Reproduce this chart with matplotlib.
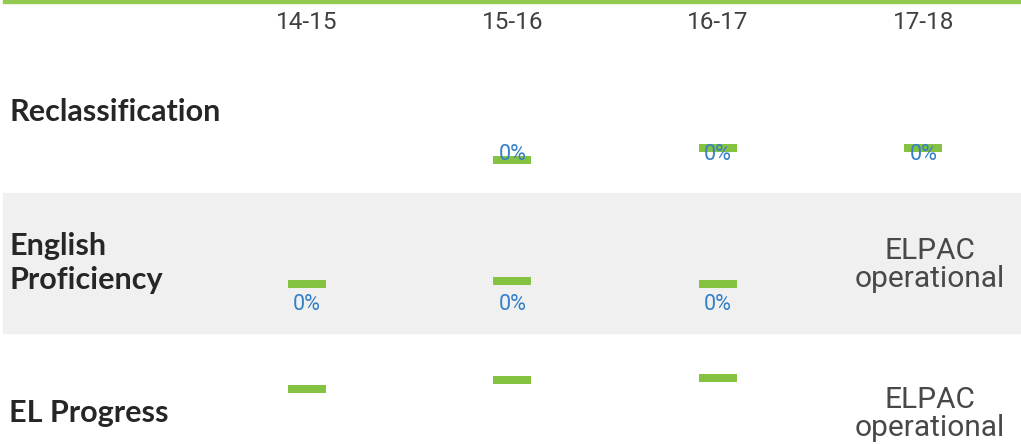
import numpy as np
import matplotlib
matplotlib.use("Agg")
import matplotlib.pyplot as plt
from matplotlib.patches import Rectangle

# data
years = ['14-15', '15-16', '16-17', '17-18']
rows = ['Reclassification', 'English\nProficiency', 'EL Progress']
# dash levels inside each row (row-local units, bottom of row = 0)
reclass_vals = [np.nan, 33, 45, 45]
prof_vals = [49, 52, 49, np.nan]
progress_vals = [55, 64, 66, np.nan]
reclass_labels = ['', '0%', '0%', '0%']
prof_labels = ['0%', '0%', '0%', '']
progress_labels = ['', '', '', '']
notes = ['', 'ELPAC\noperational', 'ELPAC\noperational']

# layout (pixels)
W, H = 1021, 444
row_edges = [40, 193, 333, 444]   # top of each row / bottom of last
label_y = [38, 29, 0]
text_y = [112, 263, 413]
note_y = [0, 265, 414]
green = '#85c242'
blue = '#3580c8'
head_col = '#404040'

fig = plt.figure(figsize=(W / 100, H / 100), dpi=100)
fig.patch.set_facecolor('white')

# grey band for the middle row and the green rule at the top
fig.patches.append(Rectangle((3 / W, 1 - 333 / H), 1 - 3 / W, 140 / H,
                             transform=fig.transFigure, color='#f0f0f0', zorder=-1))
fig.patches.append(Rectangle((3 / W, 1 - 3 / H), 1 - 3 / W, 3 / H,
                             transform=fig.transFigure, color='#92c94f', zorder=-1))

xlim = (-1.4926, 3.4746)
x = np.arange(len(years))

# header
hax = fig.add_axes([0, 1 - 40 / H, 1, 40 / H])
hax.set_xlim(*xlim)
hax.set_ylim(0, 40)
hax.axis('off')
for i, yr in enumerate(years):
    hax.text(i, 40 - 22.5, yr, ha='center', va='center', fontsize=17.5,
             family='Roboto', color=head_col)

all_vals = [reclass_vals, prof_vals, progress_vals]
all_labels = [reclass_labels, prof_labels, progress_labels]

for r in range(3):
    top, bot = row_edges[r], row_edges[r + 1]
    h = bot - top
    ax = fig.add_axes([0, 1 - bot / H, 1, h / H])
    ax.set_xlim(*xlim)
    ax.set_ylim(0, h)
    ax.axis('off')
    vals = np.array(all_vals[r], dtype=float)
    ok = ~np.isnan(vals)
    ax.bar(x[ok], 8, width=0.185, bottom=vals[ok] - 4, color=green, zorder=2)
    for i, lab in enumerate(all_labels[r]):
        if lab:
            ax.text(i, label_y[r], lab, ha='center', va='center', fontsize=15.5,
                    family='Roboto', color=blue, zorder=3)
    if notes[r]:
        ax.text(3.03, bot - note_y[r], notes[r], ha='center', va='center',
                fontsize=21.5, family='Roboto', color='#484848',
                linespacing=1.0)
    fig.text(9 / W, 1 - text_y[r] / H, rows[r], ha='left', va='center',
             fontsize=22, family='Lato', weight='bold', color='#262626',
             linespacing=1.25)

fig.savefig('out.png', dpi=100)
